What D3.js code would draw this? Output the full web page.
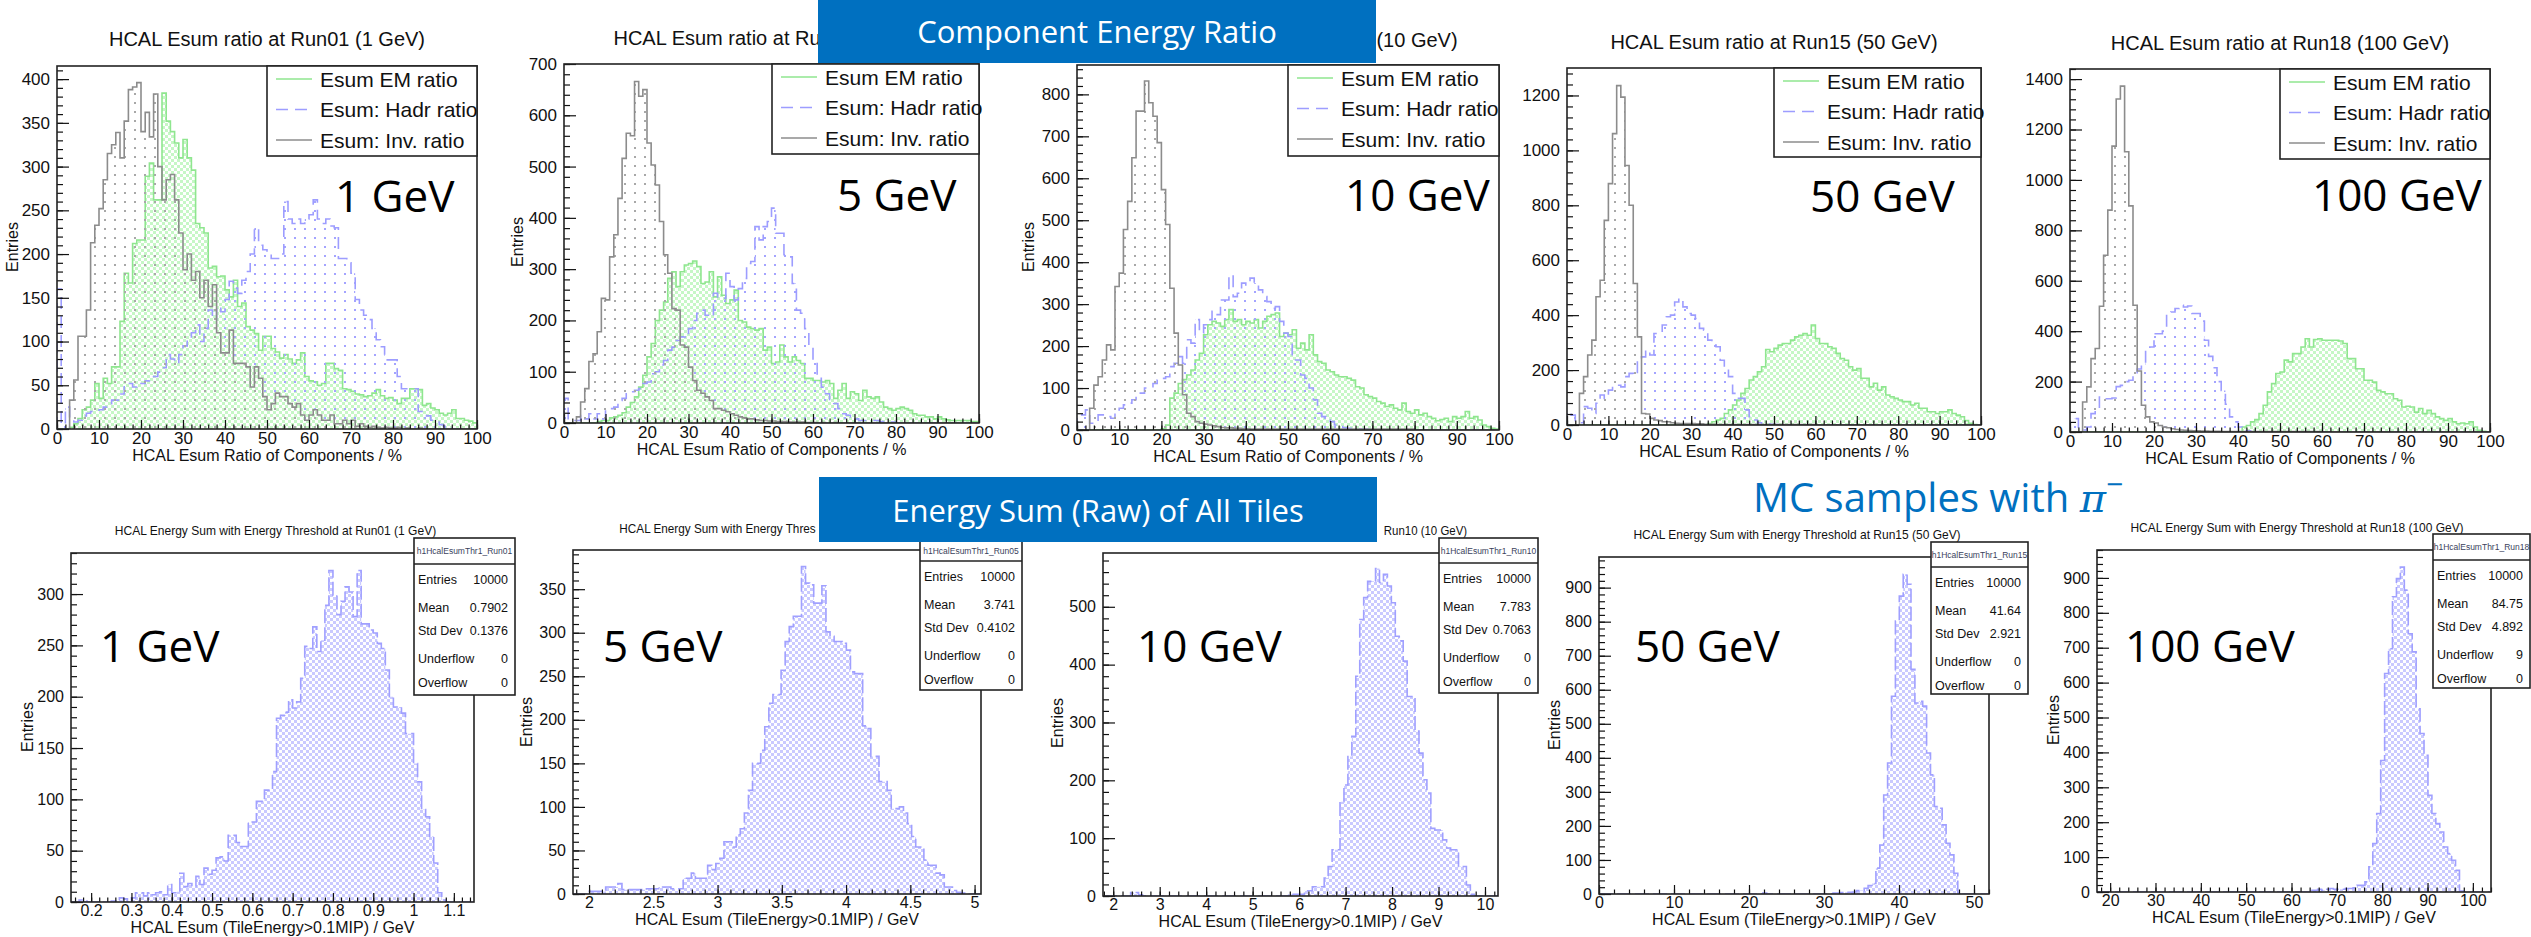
<!DOCTYPE html>
<html>
<head>
<meta charset="utf-8">
<script src="https://d3js.org/d3.v7.min.js"></script>
<style>
body{margin:0;background:#fff;}
svg{display:block;}
</style>
</head>
<body>
<script>
// ---------- data ----------
var runs = ["Run01", "Run05", "Run10", "Run15", "Run18"];
var beamEnergies = ["1 GeV", "5 GeV", "10 GeV", "50 GeV", "100 GeV"];
var legendNames = ["Esum EM ratio", "Esum: Hadr ratio", "Esum: Inv. ratio"];

// top row: 100 bins, 0..100 %
var ratioRange = [0, 100];
var ratioXTicks = [0, 10, 20, 30, 40, 50, 60, 70, 80, 90, 100];
var ratioYTicks = [
  [0, 50, 100, 150, 200, 250, 300, 350, 400],
  [0, 100, 200, 300, 400, 500, 600, 700],
  [0, 100, 200, 300, 400, 500, 600, 700, 800],
  [0, 200, 400, 600, 800, 1000, 1200],
  [0, 200, 400, 600, 800, 1000, 1200, 1400]
];
var ratioYMax = [415, 700, 870, 1300, 1440];

var run01EM = [
  0,0,0,2,6,12,22,25,33,52,
  35,58,52,71,71,123,178,167,212,216,
  216,289,304,262,262,384,352,340,327,310,
  331,310,296,235,230,224,184,186,174,175,
  159,151,170,140,144,117,113,109,90,106,
  106,92,88,81,85,80,75,79,87,60,
  55,54,50,52,75,75,69,67,46,45,
  43,40,39,37,38,41,45,38,35,36,
  33,29,35,35,46,46,45,27,29,24,
  22,18,16,18,22,12,12,10,9,7];
var run01Hadr = [
  160,5,25,10,8,10,15,18,20,20,
  22,25,28,33,33,40,52,52,48,50,
  52,55,58,60,65,70,85,80,75,85,
  95,104,110,119,100,115,136,125,140,134,
  148,169,161,155,170,180,200,230,210,205,
  200,195,195,200,260,240,235,240,235,240,
  245,262,240,235,240,232,230,195,195,190,
  178,148,136,130,125,115,102,94,79,79,
  79,60,46,46,46,46,20,20,15,10,
  8,5,3,3,0,0,0,0,0,0];
var run01Inv = [
  0,0,0,33,56,106,106,136,213,233,
  252,285,315,325,339,310,352,388,391,396,
  340,362,334,383,300,262,285,291,262,224,
  182,200,170,180,150,170,140,165,110,87,
  87,113,75,75,75,71,48,71,58,37,
  22,29,41,37,37,29,25,29,16,10,
  16,22,16,10,10,16,6,6,10,6,
  10,3,6,3,2,3,2,1,2,1,
  1,2,0,1,0,0,1,0,0,0,
  0,0,0,0,0,0,0,0,0,0];

var run05EM = [
  0,0,0,0,0,0,0,0,3,5,
  5,10,12,15,20,31,40,51,70,93,
  129,155,200,220,236,282,295,266,295,308,
  311,316,305,272,275,295,246,285,249,233,
  240,259,200,197,187,184,181,184,142,148,
  116,119,152,129,119,129,122,116,87,87,
  83,83,80,83,77,48,64,77,48,61,
  57,44,64,51,48,51,41,31,28,25,
  28,31,28,25,18,15,15,12,12,8,
  12,8,6,5,5,5,5,5,3,3];
var run05Hadr = [
  48,5,5,5,15,8,18,8,18,8,
  25,28,31,44,48,57,61,64,67,77,
  80,96,100,113,122,142,148,161,168,171,
  184,200,214,220,210,207,253,243,243,292,
  266,240,262,282,311,315,383,357,383,393,
  419,370,370,328,324,272,220,214,184,148,
  122,87,70,57,44,38,28,18,15,12,
  8,5,5,5,5,5,3,3,2,2,
  0,0,0,0,0,0,0,0,0,0,
  0,0,0,0,0,0,0,0,0,0];
var run05Inv = [
  0,0,0,12,41,67,120,135,178,243,
  240,324,367,438,516,565,560,666,637,650,
  546,503,464,393,328,292,223,220,152,148,
  109,83,64,58,51,44,28,28,25,22,
  18,15,12,10,8,8,6,5,5,4,
  4,3,3,3,2,2,2,2,1,1,
  1,0,1,0,0,1,0,0,0,0,
  0,0,0,0,0,0,0,0,0,0,
  0,0,0,0,0,0,0,0,0,0,
  0,0,0,0,0,0,0,0,0,0];

var run10EM = [
  0,0,0,0,0,0,0,0,0,0,
  0,0,0,0,0,0,0,0,0,0,
  3,12,76,88,111,120,131,143,167,183,
  227,251,259,255,247,263,287,259,263,251,
  259,255,263,243,259,271,275,279,223,231,
  227,239,195,207,191,227,179,163,159,143,
  139,131,127,127,123,119,103,100,84,80,
  76,68,64,56,60,52,48,64,44,40,
  48,36,40,32,28,22,25,28,20,32,
  28,32,44,28,32,24,12,8,4,2];
var run10Hadr = [
  36,36,48,16,16,36,36,32,28,48,
  52,60,64,72,88,88,100,103,111,119,
  123,127,151,159,175,159,215,207,263,231,
  251,263,283,275,310,310,370,318,326,350,
  346,362,350,334,318,306,290,294,259,231,
  223,167,167,131,123,100,72,40,32,24,
  20,12,8,5,4,3,3,2,2,1,
  0,0,0,0,0,0,0,0,0,0,
  0,0,0,0,0,0,0,0,0,0,
  0,0,0,0,0,0,0,0,0,0];
var run10Inv = [
  0,0,0,52,107,127,167,203,191,342,
  374,478,545,649,760,760,832,780,748,685,
  573,490,338,231,155,84,40,32,20,16,
  14,12,10,8,6,5,5,4,4,3,
  3,2,2,2,2,2,2,2,2,2,
  2,2,2,2,2,2,2,2,2,2,
  2,2,2,2,2,2,2,2,2,2,
  2,2,2,2,2,2,2,2,2,2,
  0,0,0,0,0,0,0,0,0,0,
  0,0,0,0,0,0,0,0,0,0];

var run15EM = [
  0,0,0,0,0,0,0,0,0,0,
  0,0,0,0,0,0,0,0,0,0,
  0,0,0,0,0,0,0,0,0,0,
  0,0,0,0,5,12,18,24,42,55,
  73,91,115,133,164,176,194,212,275,267,
  279,291,297,297,309,321,327,333,327,364,
  315,297,297,285,279,261,242,236,212,200,
  206,170,170,139,152,127,139,109,103,97,
  91,85,85,73,79,61,61,48,48,42,
  48,48,55,42,36,30,16,6,2,0];
var run15Hadr = [
  48,36,12,8,67,61,42,79,109,97,
  127,139,145,139,176,188,182,236,248,273,
  255,333,333,364,394,400,448,461,430,406,
  400,388,352,345,309,291,285,236,212,176,
  115,97,97,55,30,18,8,4,4,3,
  2,0,0,0,0,0,0,0,0,0,
  0,0,0,0,0,0,0,0,0,0,
  0,0,0,0,0,0,0,0,0,0,
  0,0,0,0,0,0,0,0,0,0,
  0,0,0,0,0,0,0,0,0,0];
var run15Inv = [
  0,0,0,115,176,255,309,467,527,745,
  879,1061,1236,1194,945,800,515,321,42,40,
  24,18,16,12,12,8,6,5,5,5,
  5,4,4,3,3,3,2,2,2,2,
  2,2,2,2,2,2,2,2,2,2,
  2,2,2,2,2,2,2,2,2,2,
  0,0,0,0,0,0,0,0,0,0,
  0,0,0,0,0,0,0,0,0,0,
  0,0,0,0,0,0,0,0,0,0,
  0,0,0,0,0,0,0,0,0,0];

var run18EM = [
  0,0,0,0,0,0,0,0,0,0,
  0,0,0,0,0,0,0,0,0,0,
  0,0,0,0,0,0,0,0,0,0,
  0,0,0,0,0,0,0,0,0,0,
  0,20,26,40,49,73,106,159,192,232,
  238,285,278,311,311,337,370,337,367,370,
  364,364,364,364,361,351,291,291,251,251,
  205,205,198,165,159,152,152,132,126,99,
  102,99,79,93,73,86,73,60,53,46,
  53,40,33,36,33,40,20,7,3,0];
var run18Hadr = [
  53,53,13,8,20,73,93,139,132,132,
  135,180,185,200,205,225,250,265,330,337,
  390,390,400,470,476,490,503,496,500,470,
  470,440,364,300,255,200,165,110,60,40,
  20,12,5,0,0,0,0,0,0,0,
  0,0,0,0,0,0,0,0,0,0,
  0,0,0,0,0,0,0,0,0,0,
  0,0,0,0,0,0,0,0,0,0,
  0,0,0,0,0,0,0,0,0,0,
  0,0,0,0,0,0,0,0,0,0];
var run18Inv = [
  0,0,0,119,179,291,331,499,701,880,
  1134,1321,1372,1112,897,503,242,106,60,40,
  36,26,20,17,13,10,8,7,6,5,
  5,4,4,3,3,3,2,2,2,2,
  2,2,2,2,2,2,2,2,2,2,
  2,2,2,2,2,2,2,2,2,2,
  0,0,0,0,0,0,0,0,0,0,
  0,0,0,0,0,0,0,0,0,0,
  0,0,0,0,0,0,0,0,0,0,
  0,0,0,0,0,0,0,0,0,0];

// bottom row: 100 bins over each histogram range
var esumRanges = [[0.15, 1.15], [1.875, 5.05], [1.78, 10.28], [0, 52], [17.1, 104]];
var esumXTicks = [
  [0.2, 0.3, 0.4, 0.5, 0.6, 0.7, 0.8, 0.9, 1, 1.1],
  [2, 2.5, 3, 3.5, 4, 4.5, 5],
  [2, 3, 4, 5, 6, 7, 8, 9, 10],
  [0, 10, 20, 30, 40, 50],
  [20, 30, 40, 50, 60, 70, 80, 90, 100]
];
var esumYTicks = [
  [0, 50, 100, 150, 200, 250, 300],
  [0, 50, 100, 150, 200, 250, 300, 350],
  [0, 100, 200, 300, 400, 500],
  [0, 100, 200, 300, 400, 500, 600, 700, 800, 900],
  [0, 100, 200, 300, 400, 500, 600, 700, 800, 900]
];
var esumYMax = [340, 395, 593, 990, 980];

var run01Esum = [
  0,0,2,1,0,0,0,0,0,0,
  1,2,4,3,1,4,9,9,6,9,
  7,9,10,7,17,9,10,28,15,18,
  15,25,17,33,27,31,43,44,40,65,
  65,58,54,54,78,78,98,98,109,109,
  127,179,182,185,197,189,195,218,249,247,
  268,244,255,289,323,299,280,293,307,302,
  278,323,271,271,265,262,252,247,226,200,
  190,190,184,164,164,135,117,90,83,64,
  38,9,2,0,0,0,0,0,0,0];
var run05Esum = [
  0,0,0,0,3,3,3,3,8,8,
  8,12,5,5,5,5,5,5,6,6,
  6,8,8,8,6,6,6,18,18,24,
  18,18,18,33,28,35,41,60,60,54,
  68,75,93,119,150,150,165,192,219,229,
  229,257,290,307,319,319,376,357,355,334,
  334,354,301,296,290,290,288,280,255,253,
  253,193,190,158,158,129,129,119,98,98,
  100,93,81,66,54,54,39,33,33,24,
  22,8,8,4,2,1,0,0,0,0];
var run10Esum = [
  0,0,0,0,0,0,0,6,6,2,
  0,0,0,0,0,0,0,0,0,0,
  0,0,0,0,0,0,0,0,0,0,
  0,0,0,0,0,0,0,0,0,0,
  0,0,0,0,0,0,0,3,3,3,
  3,9,9,16,16,16,31,51,80,80,
  163,192,241,276,380,478,516,544,544,566,
  542,556,536,507,449,441,406,345,345,285,
  247,201,178,117,114,114,97,83,80,80,
  51,51,19,3,0,0,0,0,0,0];
var run15Esum = [
  0,0,0,0,0,0,0,0,0,0,
  0,0,0,0,0,0,0,0,0,0,
  0,0,0,0,0,0,0,0,0,0,
  0,0,0,0,0,0,0,0,0,0,
  0,0,3,0,0,0,0,0,0,0,
  0,0,0,0,0,0,0,0,0,0,
  3,3,4,5,5,6,10,10,17,25,
  31,76,144,291,385,581,802,875,939,910,
  660,561,566,552,414,350,257,252,203,149,
  115,61,3,0,0,0,0,0,0,0];
var run18Esum = [
  0,0,0,0,0,0,0,0,0,0,
  0,0,0,0,0,0,0,0,0,0,
  0,0,0,0,0,0,0,0,0,0,
  0,0,0,0,0,0,0,0,0,0,
  0,0,0,0,0,0,0,0,0,0,
  0,0,0,0,5,5,8,5,8,10,
  8,8,8,10,10,12,19,19,29,72,
  139,225,377,626,697,846,898,931,865,740,
  688,525,454,392,277,225,196,172,129,110,
  91,62,3,0,0,0,0,0,0,0];

var statEntries = [10000, 10000, 10000, 10000, 10000];
var statMean = ["0.7902", "3.741", "7.783", "41.64", "84.75"];
var statStdDev = ["0.1376", "0.4102", "0.7063", "2.921", "4.892"];
var statUnderflow = [0, 0, 0, 0, 9];
var statOverflow = [0, 0, 0, 0, 0];

var ratioSeries = [
  [run01EM, run01Hadr, run01Inv],
  [run05EM, run05Hadr, run05Inv],
  [run10EM, run10Hadr, run10Inv],
  [run15EM, run15Hadr, run15Inv],
  [run18EM, run18Hadr, run18Inv]
];
var esumSeries = [run01Esum, run05Esum, run10Esum, run15Esum, run18Esum];

// ---------- layout ----------
var NBINS = 100;
// titleCut: part of a title left visible next to a slide banner ([side, characters, nudge])
var topLayout = [
  {frame: [57, 66, 477, 429],   titleY: 46, label: [335, 212],  legend: [267, 66, 477, 156],   yTitle: [18, 247],   yMinor: 10, titleCut: null},
  {frame: [564, 64, 979, 423],  titleY: 45, label: [837, 211],  legend: [772, 64, 979, 154],   yTitle: [523, 242],  yMinor: 20, titleCut: ["left", 21, 0]},
  {frame: [1077, 65, 1499, 430], titleY: 47, label: [1345, 211], legend: [1288, 65, 1499, 156], yTitle: [1034, 247], yMinor: 20, titleCut: ["right", 8, 6]},
  {frame: [1567, 68, 1981, 425], titleY: 49, label: [1810, 212], legend: [1774, 68, 1981, 157], yTitle: null,        yMinor: 40, titleCut: null},
  {frame: [2070, 69, 2490, 432], titleY: 50, label: [2312, 211], legend: [2280, 69, 2490, 159], yTitle: null,        yMinor: 40, titleCut: null}
];
var bottomLayout = [
  {frame: [71, 553, 474, 902],    titleY: 535, label: [100, 662],  stats: [414, 538, 515, 695, 564],   yTitle: [33, 727],   xMinor: 0.02, yMinor: 10, titleCut: null},
  {frame: [573, 550, 981, 894],   titleY: 533, label: [603, 662],  stats: [920, 540, 1022, 690, 561],  yTitle: [532, 722],  xMinor: 0.1,  yMinor: 10, titleCut: ["left", 33, 0]},
  {frame: [1103, 553, 1498, 896], titleY: 535, label: [1137, 662], stats: [1439, 538, 1538, 693, 563], yTitle: [1063, 723], xMinor: 0.2,  yMinor: 20, titleCut: ["right", 14, 0]},
  {frame: [1599, 557, 1989, 894], titleY: 539, label: [1635, 662], stats: [1931, 542, 2028, 694, 567], yTitle: [1560, 725], xMinor: 2,    yMinor: 20, titleCut: null},
  {frame: [2097, 550, 2491, 892], titleY: 532, label: [2125, 662], stats: [2433, 534, 2530, 688, 560], yTitle: [2059, 720], xMinor: 2,    yMinor: 20, titleCut: null}
];

var ROOTFONT = "'Liberation Sans', Arial, sans-serif";
var SLIDEFONT = "'Open Sans', 'Noto Sans', sans-serif";
var BLUE = "#0070c0";

var svg = d3.select("body").append("svg")
  .attr("width", 2531).attr("height", 937)
  .style("font-family", ROOTFONT);

var defs = svg.append("defs");

function checkPattern(id, color) {
  var p = defs.append("pattern").attr("id", id)
    .attr("patternUnits", "userSpaceOnUse").attr("width", 6).attr("height", 6);
  p.append("rect").attr("width", 3).attr("height", 3).attr("fill", color);
  p.append("rect").attr("x", 3).attr("y", 3).attr("width", 3).attr("height", 3).attr("fill", color);
}
function dotPattern(id, color) {
  var p = defs.append("pattern").attr("id", id)
    .attr("patternUnits", "userSpaceOnUse").attr("width", 10).attr("height", 9);
  p.append("rect").attr("x", 4).attr("y", 3).attr("width", 2).attr("height", 2).attr("fill", color);
}
checkPattern("emFill", "#c6f7c6");
dotPattern("hadrFill", "#a4a4ff");
dotPattern("invFill", "#a8a8a8");
checkPattern("esumFill", "#cacaff");

var styles = {
  em:   {fill: "emFill",   stroke: "#8fe68f", dash: null},
  hadr: {fill: "hadrFill", stroke: "#9d9dff", dash: "12,7"},
  inv:  {fill: "invFill",  stroke: "#8c8c8c", dash: null},
  esum: {fill: "esumFill", stroke: "#a0a0ff", dash: "14,4"}
};

var fmt = d3.format("~g");
var clipCount = 0;

function minorTicks(domain, step) {
  var out = [];
  for (var k = Math.ceil(domain[0] / step - 1e-6); k * step <= domain[1] + 1e-9; k++) out.push(+(k * step).toFixed(6));
  return out;
}

function histPoints(values, lo, hi) {
  var w = (hi - lo) / NBINS, pts = [[lo, 0]];
  values.forEach(function(v, i) { pts.push([lo + i * w, v], [lo + (i + 1) * w, v]); });
  pts.push([lo + values.length * w, 0]);
  return pts;
}

function drawHist(g, x, y, values, st, clip) {
  var pts = histPoints(values, x.domain()[0], x.domain()[1]);
  var area = d3.area().x(function(d) { return x(d[0]); }).y0(y(0)).y1(function(d) { return y(d[1]); });
  var line = d3.line().x(function(d) { return x(d[0]); }).y(function(d) { return y(d[1]); });
  g.append("path").attr("d", area(pts)).attr("fill", "url(#" + st.fill + ")").attr("clip-path", clip);
  g.append("path").attr("d", line(pts)).attr("fill", "none")
    .attr("stroke", st.stroke).attr("stroke-width", 1.6)
    .attr("stroke-dasharray", st.dash).attr("clip-path", clip);
}

function drawFrame(g, f, x, y, xMajor, xMinorStep, yMajor, yMinorStep, fs) {
  var bx = g.append("g").attr("transform", "translate(0," + f[3] + ")");
  bx.call(d3.axisBottom(x).tickValues(minorTicks(x.domain(), xMinorStep)).tickSize(-4.5).tickFormat(""));
  bx.append("g").call(d3.axisBottom(x).tickValues(xMajor).tickSize(-9).tickPadding(3).tickFormat(fmt));
  var ly = g.append("g").attr("transform", "translate(" + f[0] + ",0)");
  ly.call(d3.axisLeft(y).tickValues(minorTicks(y.domain(), yMinorStep)).tickSize(-6).tickFormat(""));
  ly.append("g").call(d3.axisLeft(y).tickValues(yMajor).tickSize(-12).tickPadding(7).tickFormat(fmt));
  g.selectAll(".domain").remove();
  g.selectAll(".tick line").attr("stroke", "#111").attr("stroke-width", 1.2);
  g.selectAll(".tick text").attr("font-size", fs).attr("font-family", ROOTFONT).attr("fill", "#111");
  g.append("rect").attr("x", f[0]).attr("y", f[1]).attr("width", f[2] - f[0]).attr("height", f[3] - f[1])
    .attr("fill", "none").attr("stroke", "#222").attr("stroke-width", 1.6);
}

function makeClip(x0, y0, x1, y1) {
  var id = "clip" + (clipCount++);
  defs.append("clipPath").attr("id", id).append("rect")
    .attr("x", x0).attr("y", y0).attr("width", x1 - x0).attr("height", y1 - y0);
  return "url(#" + id + ")";
}

// title centred over the frame; where a banner covers it, only the visible part is drawn
function panelTitle(g, L, txt, fs, dx, fit) {
  var cx = (L.frame[0] + L.frame[2]) / 2 + dx;
  var t = g.append("text").attr("x", cx).attr("y", L.titleY)
    .attr("text-anchor", "middle").attr("font-size", fs).attr("fill", "#111").text(txt);
  if (fit) t.attr("textLength", txt.length * fit).attr("lengthAdjust", "spacingAndGlyphs");
  if (!L.titleCut) return;
  var full = fit ? txt.length * fit : t.node().getComputedTextLength();
  var side = L.titleCut[0], n = L.titleCut[1], nudge = L.titleCut[2];
  var part = side === "left" ? txt.slice(0, n) : txt.slice(txt.length - n);
  t.text(part)
    .attr("text-anchor", side === "left" ? "start" : "end")
    .attr("x", (side === "left" ? cx - full / 2 : cx + full / 2) + nudge);
  if (fit) t.attr("textLength", part.length * fit);
}

function yTitle(g, pos, fs) {
  if (!pos) return;
  g.append("text").attr("transform", "translate(" + pos[0] + "," + pos[1] + ") rotate(-90)")
    .attr("text-anchor", "middle").attr("font-size", fs).attr("fill", "#111").text("Entries");
}

function bigLabel(g, pos, txt) {
  g.append("text").attr("x", pos[0]).attr("y", pos[1])
    .attr("font-family", SLIDEFONT).attr("font-size", 44).attr("fill", "#000").text(txt);
}

// ---------- top row: component energy ratio ----------
topLayout.forEach(function(L, p) {
  var f = L.frame, g = svg.append("g");
  var x = d3.scaleLinear().domain(ratioRange).range([f[0], f[2]]);
  var y = d3.scaleLinear().domain([0, ratioYMax[p]]).range([f[3], f[1]]);
  var clip = makeClip(f[0], f[1], f[2], f[3]);
  var s = ratioSeries[p];
  drawHist(g, x, y, s[0], styles.em, clip);
  drawHist(g, x, y, s[1], styles.hadr, clip);
  drawHist(g, x, y, s[2], styles.inv, clip);
  drawFrame(g, f, x, y, ratioXTicks, 2, ratioYTicks[p], L.yMinor, 17);

  panelTitle(g, L, "HCAL Esum ratio at " + runs[p] + " (" + beamEnergies[p] + ")", 20, 0, null);
  g.append("text").attr("x", (f[0] + f[2]) / 2).attr("y", f[3] + 32).attr("text-anchor", "middle")
    .attr("font-size", 16).attr("fill", "#111").text("HCAL Esum Ratio of Components / %");
  yTitle(g, L.yTitle, 16);

  var lg = L.legend;
  g.append("rect").attr("x", lg[0]).attr("y", lg[1]).attr("width", lg[2] - lg[0]).attr("height", lg[3] - lg[1])
    .attr("fill", "#fff").attr("stroke", "#222").attr("stroke-width", 1.6);
  [styles.em, styles.hadr, styles.inv].forEach(function(st, i) {
    var ly = lg[1] + 13 + i * 30.5;
    g.append("line").attr("x1", lg[0] + 9).attr("x2", lg[0] + 45).attr("y1", ly).attr("y2", ly)
      .attr("stroke", st.stroke).attr("stroke-width", 1.6).attr("stroke-dasharray", st.dash);
    g.append("text").attr("x", lg[0] + 53).attr("y", ly + 7.5).attr("font-size", 21).attr("fill", "#111")
      .text(legendNames[i]);
  });
  bigLabel(g, L.label, beamEnergies[p]);
});

// ---------- bottom row: energy sum ----------
bottomLayout.forEach(function(L, p) {
  var f = L.frame, g = svg.append("g");
  var x = d3.scaleLinear().domain(esumRanges[p]).range([f[0], f[2]]);
  var y = d3.scaleLinear().domain([0, esumYMax[p]]).range([f[3], f[1]]);
  var clip = makeClip(f[0], f[1], f[2], f[3]);
  drawHist(g, x, y, esumSeries[p], styles.esum, clip);
  drawFrame(g, f, x, y, esumXTicks[p], L.xMinor, esumYTicks[p], L.yMinor, 16);

  panelTitle(g, L, "HCAL Energy Sum with Energy Threshold at " + runs[p] + " (" + beamEnergies[p] + ")", 13.5, 3, 5.95);
  g.append("text").attr("x", (f[0] + f[2]) / 2).attr("y", f[3] + 31).attr("text-anchor", "middle")
    .attr("font-size", 16).attr("fill", "#111").text("HCAL Esum (TileEnergy>0.1MIP) / GeV");
  yTitle(g, L.yTitle, 16);

  // stats box
  var sb = L.stats;
  var sg = g.append("g");
  sg.append("rect").attr("x", sb[0]).attr("y", sb[1]).attr("width", sb[2] - sb[0]).attr("height", sb[3] - sb[1])
    .attr("fill", "#fff").attr("stroke", "#222").attr("stroke-width", 1.6);
  sg.append("line").attr("x1", sb[0]).attr("x2", sb[2]).attr("y1", sb[4]).attr("y2", sb[4])
    .attr("stroke", "#222").attr("stroke-width", 1.4);
  sg.append("text").attr("x", (sb[0] + sb[2]) / 2).attr("y", (sb[1] + sb[4]) / 2 + 3)
    .attr("text-anchor", "middle").attr("font-size", 8.5).attr("fill", "#3a3f5c")
    .text("h1HcalEsumThr1_" + runs[p]);
  var rows = [
    ["Entries", statEntries[p]], ["Mean", statMean[p]], ["Std Dev", statStdDev[p]],
    ["Underflow", statUnderflow[p]], ["Overflow", statOverflow[p]]
  ];
  var rowOff = [15, 43, 66, 94, 118];
  rows.forEach(function(r, i) {
    var ry = sb[4] + rowOff[i] + 4.5;
    sg.append("text").attr("x", sb[0] + 4).attr("y", ry).attr("font-size", 12.5).attr("fill", "#111").text(r[0]);
    sg.append("text").attr("x", sb[2] - 7).attr("y", ry).attr("text-anchor", "end")
      .attr("font-size", 12.5).attr("fill", "#111").text(r[1]);
  });
  bigLabel(g, L.label, beamEnergies[p]);
});

// ---------- slide banners ----------
function banner(x0, y0, x1, y1, baseline, txt) {
  svg.append("rect").attr("x", x0).attr("y", y0).attr("width", x1 - x0).attr("height", y1 - y0).attr("fill", BLUE);
  svg.append("text").attr("x", (x0 + x1) / 2).attr("y", baseline).attr("text-anchor", "middle")
    .attr("font-family", SLIDEFONT).attr("font-size", 31).attr("fill", "#fff").text(txt);
}
banner(818, 0, 1376, 63, 43, "Component Energy Ratio");
banner(819, 477, 1377, 542, 522, "Energy Sum (Raw) of All Tiles");

var mc = svg.append("text").attr("x", 1753).attr("y", 512)
  .attr("font-family", SLIDEFONT).attr("font-size", 40).attr("fill", BLUE);
mc.append("tspan").text("MC samples with ");
mc.append("tspan").attr("font-family", "'DejaVu Serif', serif").attr("font-style", "italic").text("\u03c0");
mc.append("tspan").attr("dy", -17).attr("font-size", 30).text("\u2212");
</script>
</body>
</html>
